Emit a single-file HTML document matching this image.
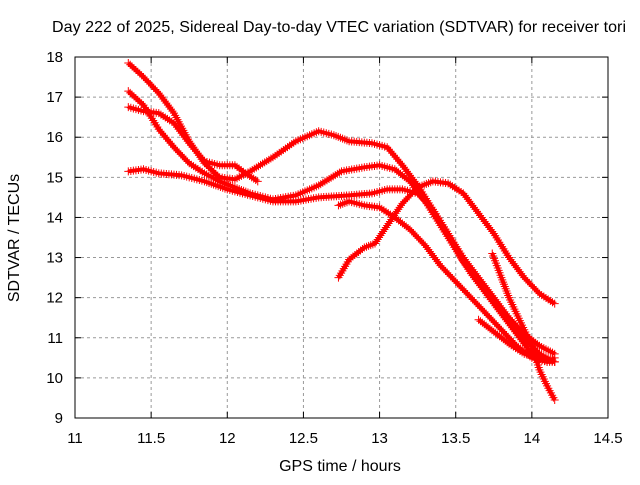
<!DOCTYPE html>
<html><head><meta charset="utf-8"><style>
body{margin:0;background:#fff}
svg text{font-family:"Liberation Sans",sans-serif;font-size:15px;fill:#000}
svg text.big{font-size:16px}
</style></head><body>
<svg id="c" width="640" height="480">
<rect width="640" height="480" fill="#fff"/>
<text class="big" x="339" y="32" text-anchor="middle" textLength="574">Day 222 of 2025, Sidereal Day-to-day VTEC variation (SDTVAR) for receiver tori</text>
<text class="big" x="340" y="471" text-anchor="middle">GPS time / hours</text>
<text class="big" x="0" y="0" transform="translate(19,238) rotate(-90)" text-anchor="middle">SDTVAR / TECUs</text>
<g id="grid"></g><g id="ticks"></g><g id="series"></g>
<rect x="75" y="57" width="533" height="361" fill="none" stroke="#000" stroke-width="1"/>
</svg>
<script>
const xTicks=[11,11.5,12,12.5,13,13.5,14,14.5];
const xTickLabels=["11","11.5","12","12.5","13","13.5","14","14.5"];
const yTicks=[9,10,11,12,13,14,15,16,17,18];
const s1x=[11.35,11.45,11.55,11.65,11.75,11.85,11.95,12.05,12.15,12.3,12.45,12.6,12.7,12.8,12.95,13.05,13.15,13.25,13.35,13.45,13.55,13.65,13.75,13.85,13.95,14.05,14.15];
const s1y=[17.85,17.5,17.1,16.6,15.9,15.35,15.0,14.95,15.15,15.5,15.9,16.15,16.05,15.9,15.85,15.75,15.3,14.8,14.2,13.6,13.0,12.5,12.0,11.5,11.0,10.6,10.4];
const s2x=[11.35,11.45,11.55,11.65,11.75,11.85,11.95,12.05,12.15,12.3,12.45,12.6,12.75,12.9,13.0,13.1,13.2,13.3,13.4,13.5,13.6,13.7,13.8,13.9,14.0,14.1,14.15];
const s2y=[17.15,16.8,16.2,15.75,15.35,15.1,14.9,14.75,14.6,14.45,14.55,14.8,15.15,15.25,15.3,15.2,14.9,14.4,13.8,13.2,12.6,12.1,11.6,11.1,10.6,10.4,10.5];
const s3x=[11.35,11.45,11.55,11.65,11.75,11.85,11.95,12.05,12.12,12.2];
const s3y=[16.75,16.65,16.6,16.35,15.85,15.4,15.3,15.3,15.1,14.9];
const s4x=[11.35,11.45,11.55,11.7,11.85,12.0,12.15,12.3,12.45,12.6,12.8,12.95,13.05,13.15,13.25,13.35,13.45,13.55,13.65,13.75,13.85,13.95,14.05,14.15];
const s4y=[15.15,15.2,15.1,15.05,14.9,14.7,14.55,14.4,14.4,14.5,14.55,14.6,14.7,14.7,14.6,14.2,13.6,12.9,12.4,11.9,11.5,11.1,10.8,10.6];
const s5x=[12.73,12.8,12.9,12.97,13.05,13.15,13.25,13.35,13.45,13.55,13.65,13.75,13.85,13.95,14.05,14.15];
const s5y=[12.5,12.95,13.25,13.35,13.8,14.35,14.75,14.9,14.85,14.6,14.1,13.6,13.0,12.5,12.1,11.85];
const s6x=[12.73,12.8,12.9,13.0,13.1,13.2,13.3,13.4,13.5,13.6,13.7,13.8,13.9,14.0,14.1,14.15];
const s6y=[14.3,14.4,14.3,14.25,14.0,13.7,13.3,12.8,12.4,12.0,11.6,11.2,10.8,10.5,10.4,10.4];
const s7x=[13.74,13.8,13.85,13.9,13.95,14.0,14.05,14.1,14.15];
const s7y=[13.1,12.5,12.0,11.6,11.2,10.8,10.2,9.8,9.45];
const s8x=[13.65,13.75,13.85,13.95,14.05,14.15];
const s8y=[11.45,11.15,10.85,10.6,10.5,10.4];
const NS="http://www.w3.org/2000/svg";
const X=v=>75+(v-11)*533/3.5, Y=v=>418-(v-9)*361/9;
function mk(t,a,p){const e=document.createElementNS(NS,t);for(const k in a)e.setAttribute(k,a[k]);p.appendChild(e);return e;}
const g=document.getElementById('grid'),tk=document.getElementById('ticks'),sg=document.getElementById('series');
xTicks.forEach((v,i)=>{const x=X(v);
 if(i>0&&i<xTicks.length-1){const l=mk('line',{x1:x,x2:x,y1:57,y2:418,stroke:'#999','stroke-dasharray':'3,3'},g);
 
 }
 mk('line',{x1:x,x2:x,y1:418,y2:412,stroke:'#000'},tk);mk('line',{x1:x,x2:x,y1:57,y2:63,stroke:'#000'},tk);
 const t=mk('text',{x:x,y:443,'text-anchor':'middle'},tk);t.textContent=xTickLabels[i];
 
 });
yTicks.forEach((v,i)=>{const y=Y(v);
 if(i>0&&i<yTicks.length-1){const l=mk('line',{x1:75,x2:608,y1:y,y2:y,stroke:'#999','stroke-dasharray':'3,3'},g);
 
 }
 mk('line',{x1:75,x2:81,y1:y,y2:y,stroke:'#000'},tk);mk('line',{x1:608,x2:602,y1:y,y2:y,stroke:'#000'},tk);
 const t=mk('text',{x:63,y:y+5,'text-anchor':'end'},tk);t.textContent=String(v);
 
 });
const all=[[s1x,s1y],[s2x,s2y],[s3x,s3y],[s4x,s4y],[s5x,s5y],[s6x,s6y],[s7x,s7y],[s8x,s8y]];
all.forEach(([xs,ys],si)=>{
 const grp=mk('g',{},sg);
 
 
 const pts=xs.map((v,i)=>[X(v),Y(ys[i])]);
 mk('polyline',{points:pts.map(p=>p.join(',')).join(' '),fill:'none',stroke:'#f00','stroke-width':4},grp);
 let d='';
 for(let i=0;i<pts.length-1;i++){const [ax,ay]=pts[i],[bx,by]=pts[i+1];const L=Math.hypot(bx-ax,by-ay);const n=Math.max(1,Math.round(L/2.5));
  for(let k=0;k<n;k++){const x=ax+(bx-ax)*k/n,y=ay+(by-ay)*k/n;d+=`M${x-4},${y}h8M${x},${y-4}v8`;}}
 const [lx,ly]=pts[pts.length-1];d+=`M${lx-4},${ly}h8M${lx},${ly-4}v8`;
 mk('path',{d:d,stroke:'#f00','stroke-width':1,fill:'none'},grp);
});
</script>
</body></html>
